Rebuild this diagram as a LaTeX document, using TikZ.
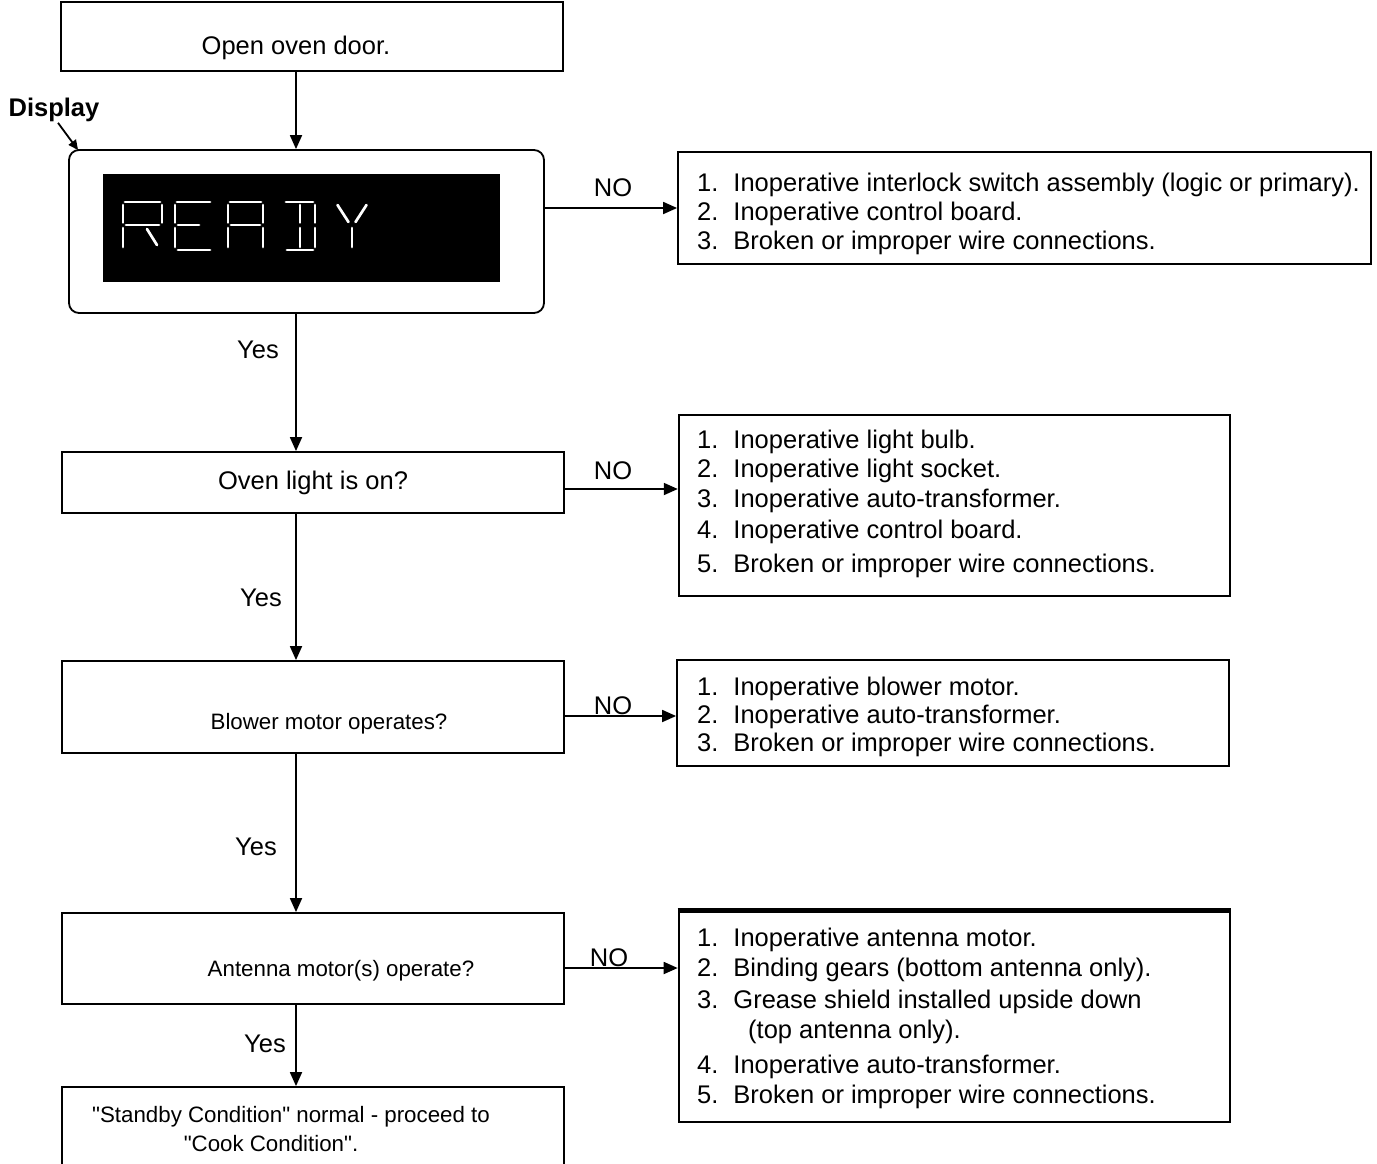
\documentclass[tikz,border=0pt]{standalone}
\usepackage{fontspec}
\setmainfont{Liberation Sans}[Ligatures=TeXOff]
\usetikzlibrary{arrows.meta}
\begin{document}
\begin{tikzpicture}[x=1pt,y=-1pt,
  box/.style={draw,line width=1.8pt,inner sep=0pt,minimum width=502pt},
  rbox/.style={draw,line width=1.8pt,inner sep=0pt},
  big/.style={font=\fontsize{25.5}{30}\selectfont},
  sml/.style={font=\fontsize{22.3}{27}\selectfont},
  lin/.style={big,inner sep=0pt,text height=18.3pt,text depth=0pt,anchor=west},
  slin/.style={sml,inner sep=0pt,text height=16pt,text depth=0pt},
  lbl/.style={big,inner sep=0pt,text height=18.3pt,text depth=0pt},
  arr/.style={line width=1.8pt,-{Triangle[length=14pt,width=12pt]}},
  seg/.style={white,line width=2.7pt,line cap=round}
]
\useasboundingbox (0,0) rectangle (1377,1163);
\clip (0,0) rectangle (1377,1163);

% spine
\coordinate (spine) at (296,0);

% top box
\node[box,minimum height=69pt] (b1) at (312,36.5) {};
\node[lbl] (t1) at (296,45) {Open oven door.};

% display
\node[draw,line width=1.8pt,rounded corners=10pt,minimum width=475pt,minimum height=163pt,inner sep=0pt] (disp) at (306.5,231.5) {};
\node[fill=black,minimum width=397pt,minimum height=108pt,inner sep=0pt] (scr) at (301.5,228) {};
\node[big,font=\fontsize{25.5}{30}\selectfont\bfseries,inner sep=0pt,text height=18.3pt,text depth=5pt] (dlab) at (54,110) {Display};
\draw[line width=1.8pt,-{Triangle[length=10pt,width=9pt]}] ([xshift=4pt,yshift=-1pt]dlab.south) -- ([xshift=10pt,yshift=-1pt]disp.north west);

% READY segments
\begin{scope}
% R
\draw[seg] (125,202)--(160,202);
\draw[seg] (123,205)--(123,222.5);
\draw[seg] (123,228)--(123,247);
\draw[seg] (162,205)--(162,222.5);
\draw[seg] (126,225)--(159,225);
\draw[seg] (147,229)--(157,245);
% E
\draw[seg] (177,202)--(210,202);
\draw[seg] (175,205)--(175,222.5);
\draw[seg] (175,228)--(175,247);
\draw[seg] (178,225)--(199,225);
\draw[seg] (178,250)--(210,250);
% A
\draw[seg] (230,202)--(261,202);
\draw[seg] (228,205)--(228,222.5);
\draw[seg] (228,228)--(228,247);
\draw[seg] (263,205)--(263,222.5);
\draw[seg] (263,228)--(263,247);
\draw[seg] (231,225)--(260,225);
% D
\draw[seg] (286,202)--(313,202);
\draw[seg] (300,205)--(300,222.5);
\draw[seg] (300,228)--(300,247);
\draw[seg] (315,205)--(315,222.5);
\draw[seg] (315,228)--(315,247);
\draw[seg] (287,250)--(313,250);
% Y
\draw[seg] (337.5,205)--(348.5,222);
\draw[seg] (366.5,205)--(355.5,222);
\draw[seg] (352,228)--(352,247);
\end{scope}

% right box 1
\node[rbox,minimum width=693pt,minimum height=112pt] (r1) at (1024.5,208) {};
\node[lin] (r1a) at (697,182) {1.\hspace{15pt}Inoperative interlock switch assembly (logic or primary).};
\node[lin] (r1b) at (697,211) {2.\hspace{15pt}Inoperative control board.};
\node[lin] (r1c) at (697,240) {3.\hspace{15pt}Broken or improper wire connections.};
\draw[arr] (disp.east |- r1.west) -- (r1.west);
\node[lbl] (no1) at (613,187) {NO};

% box 2
\node[box,minimum height=61pt,big] (b2) at (313,482.5) {Oven light is on?};
\draw[arr] (disp.south -| spine) -- (b2.north -| spine);
\node[lbl] (y1) at (258,349) {Yes};

\node[rbox,line width=2.4pt,minimum width=551pt,minimum height=181pt] (r2) at (954.5,505.5) {};
\node[lin] (r2a) at (697,439) {1.\hspace{15pt}Inoperative light bulb.};
\node[lin] (r2b) at (697,468) {2.\hspace{15pt}Inoperative light socket.};
\node[lin] (r2c) at (697,498) {3.\hspace{15pt}Inoperative auto-transformer.};
\node[lin] (r2d) at (697,529) {4.\hspace{15pt}Inoperative control board.};
\node[lin] (r2e) at (697,563) {5.\hspace{15pt}Broken or improper wire connections.};
\coordinate (n2) at (0,489);
\draw[arr] (b2.east |- n2) -- (r2.west |- n2);
\node[lbl] (no2) at (613,470) {NO};

% box 3
\node[box,minimum height=92pt] (b3) at (313,707) {};
\node[slin] (t3) at (329,721) {Blower motor operates?};
\draw[arr] (b2.south -| spine) -- (b3.north -| spine);
\node[lbl] (y2) at (261,597) {Yes};

\node[rbox,minimum width=552pt,minimum height=106pt] (r3) at (953,713) {};
\node[lin] (r3a) at (697,686) {1.\hspace{15pt}Inoperative blower motor.};
\node[lin] (r3b) at (697,714) {2.\hspace{15pt}Inoperative auto-transformer.};
\node[lin] (r3c) at (697,742) {3.\hspace{15pt}Broken or improper wire connections.};
\coordinate (n3) at (0,716);
\draw[arr] (b3.east |- n3) -- (r3.west |- n3);
\node[lbl] (no3) at (613,705) {NO};

% box 4
\node[box,minimum height=91pt] (b4) at (313,958.5) {};
\node[slin] (t4) at (341,968) {Antenna motor(s) operate?};
\draw[arr] (b3.south -| spine) -- (b4.north -| spine);
\node[lbl] (y3) at (256,846) {Yes};

\node[rbox,line width=2.6pt,minimum width=551pt,minimum height=210pt] (r4) at (954.5,1017) {};
\draw[line width=4.5pt] (r4.north west) -- (r4.north east);
\node[lin] (r4a) at (697,937) {1.\hspace{15pt}Inoperative antenna motor.};
\node[lin] (r4b) at (697,967) {2.\hspace{15pt}Binding gears (bottom antenna only).};
\node[lin] (r4c) at (697,999) {3.\hspace{15pt}Grease shield installed upside down};
\node[lin] (r4d) at (748,1029) {(top antenna only).};
\node[lin] (r4e) at (697,1064) {4.\hspace{15pt}Inoperative auto-transformer.};
\node[lin] (r4f) at (697,1094) {5.\hspace{15pt}Broken or improper wire connections.};
\coordinate (n4) at (0,968);
\draw[arr] (b4.east |- n4) -- (r4.west |- n4);
\node[lbl] (no4) at (609,957) {NO};

% box 5
\node[box,minimum height=90pt] (b5) at (313,1132) {};
\node[slin] (t5a) at (291,1114) {"Standby Condition" normal - proceed to};
\node[slin] (t5b) at (271,1143) {"Cook Condition".};
\draw[arr] (b4.south -| spine) -- (b5.north -| spine);
\node[lbl] (y4) at (265,1043) {Yes};

% top arrow
\draw[arr] (b1.south -| spine) -- (disp.north -| spine);
\end{tikzpicture}
\end{document}
